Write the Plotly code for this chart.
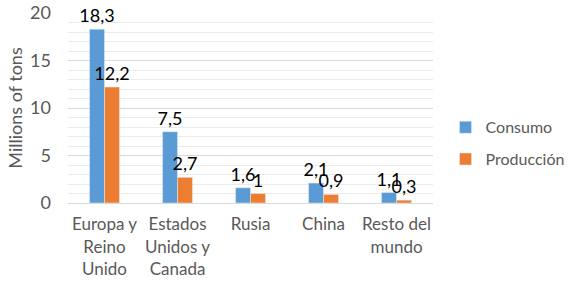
import plotly.graph_objects as go

categories = ["Europa y<br>Reino<br>Unido", "Estados<br>Unidos y<br>Canada", "Rusia", "China", "Resto del<br>mundo"]
consumo = [18.3, 7.5, 1.6, 2.1, 1.1]
produccion = [12.2, 2.7, 1.0, 0.9, 0.3]
y_ticks = [0, 5, 10, 15, 20]

def fmt(v):
    s = ("%g" % v)
    return s.replace(".", ",")

FONT = "Lato, Carlito, sans-serif"
GRAY = "#595959"

fig = go.Figure()
fig.add_trace(go.Bar(x=categories, y=consumo, name="Consumo", marker_color="#5B9BD5",
                     legendgroup="a",
                     text=[fmt(v) for v in consumo], textposition="outside",
                     textfont=dict(size=18, color="black", family=FONT),
                     constraintext="none", cliponaxis=False))
fig.add_trace(go.Bar(x=categories, y=produccion, name="Producción", marker_color="#ED7D31",
                     legendgroup="b",
                     text=[fmt(v) for v in produccion], textposition="outside",
                     textfont=dict(size=18, color="black", family=FONT),
                     constraintext="none", cliponaxis=False))

fig.update_layout(
    width=569, height=281,
    margin=dict(l=68, r=136, t=13, b=78, autoexpand=False),
    paper_bgcolor="white", plot_bgcolor="white",
    font=dict(family=FONT, color=GRAY, size=17),
    barmode="group", bargap=0.59, bargroupgap=0,
    showlegend=True,
    legend=dict(xref="container", yref="container", x=0.783, y=0.49,
                xanchor="left", yanchor="middle",
                font=dict(size=16, color=GRAY), itemwidth=30,
                traceorder="grouped", tracegroupgap=8),
)
fig.update_xaxes(showline=True, linecolor="#D9D9D9", linewidth=1,
                 ticks="", ticklabelstandoff=6,
                 tickfont=dict(size=17, color=GRAY), showgrid=False, automargin=False)
fig.update_yaxes(range=[0, 20], tickvals=y_ticks, showgrid=True, gridcolor="#D9D9D9",
                 zeroline=False, tickfont=dict(size=18, color=GRAY),
                 ticks="", ticklabelstandoff=16,
                 minor=dict(dtick=1, showgrid=True, gridcolor="#EBEBEB"), automargin=False,
                 title=dict(text="Millions of tons", font=dict(size=18, color=GRAY), standoff=2))

fig.write_html("out.html", config={"displayModeBar": False},
               post_script="document.body.style.margin='0';document.body.style.overflow='hidden';")
